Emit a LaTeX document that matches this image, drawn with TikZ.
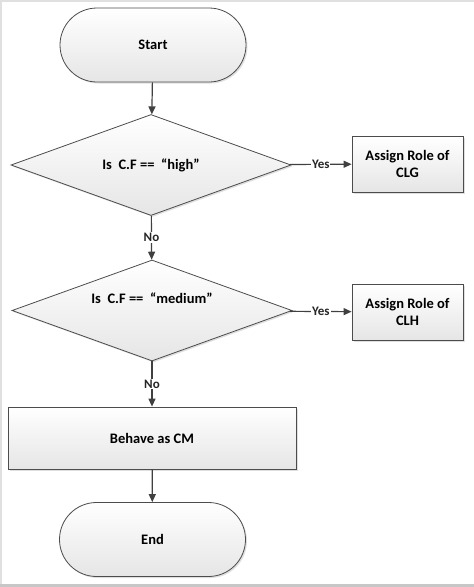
\documentclass[tikz,border=0pt]{standalone}
\usepackage{fontspec}
\setmainfont{Carlito}
\usepackage{tikz}
\usetikzlibrary{arrows.meta, shapes.geometric, shadows}

\begin{document}
\begin{tikzpicture}
	[%
	x=1pt, y=-1pt,%
	box/.style     ={draw=black!70, top color=white, bottom color=black!10, thick, drop shadow={opacity=0.25, shadow xshift=1.5pt, shadow yshift=-1.5pt}, font=\fontsize{14.5}{17}\selectfont\bfseries, align=center, inner sep=0pt},%
	terminal/.style={box, rectangle, rounded corners=37pt, minimum width=186pt, minimum height=74pt},%
	decision/.style={box, diamond, aspect=2.8, minimum width=280pt, minimum height=101pt},%
	process/.style ={box, rectangle, minimum width=111pt, minimum height=56pt},%
	flow/.style    ={draw=black!75, line width=1.2pt, -{Triangle[length=8pt,width=7pt]}},%
	answer/.style  ={fill=white, inner sep=1pt, font=\fontsize{13}{15}\selectfont\bfseries, text=black!85},%
	]

	\useasboundingbox (0,0) rectangle (474,587);

	% frame
	\draw [black!12, line width=2pt] (474,1) -- (1,1) -- (1,585.5);
	\draw [black!22, line width=3pt] (0,585.5) -- (474,585.5);

	% nodes
	\node (start)  at (153,45)    [terminal] {Start};
	\node (dec0)   at (151,165)   [decision] {Is\ \ C.F == \ “high”};
	\node (dec1)   at (152,310.5) [decision] {Is\ \ C.F == \ “medium”\\[8pt]};
	\node (role0)  at (407.5,164) [process]  {Assign Role of\\CLG};
	\node (role1)  at (407.5,312) [process]  {Assign Role of\\CLH};
	\node (behave) at (152,438)   [process, minimum width=288pt, minimum height=62pt] {Behave as CM};
	\node (stop)   at (152.5,539.5) [terminal] {End};

	% interconnections
	\draw [flow] (start) to (dec0);
	\draw [flow] (dec0) to node [answer] {No} (dec1);
	\draw [flow] (dec1) to node [answer] {No} (behave);
	\draw [flow] (behave) to (stop);

	\foreach \i in {0,1} \draw [flow] (dec\i) to node [answer] {Yes} (role\i);

\end{tikzpicture}
\end{document}
